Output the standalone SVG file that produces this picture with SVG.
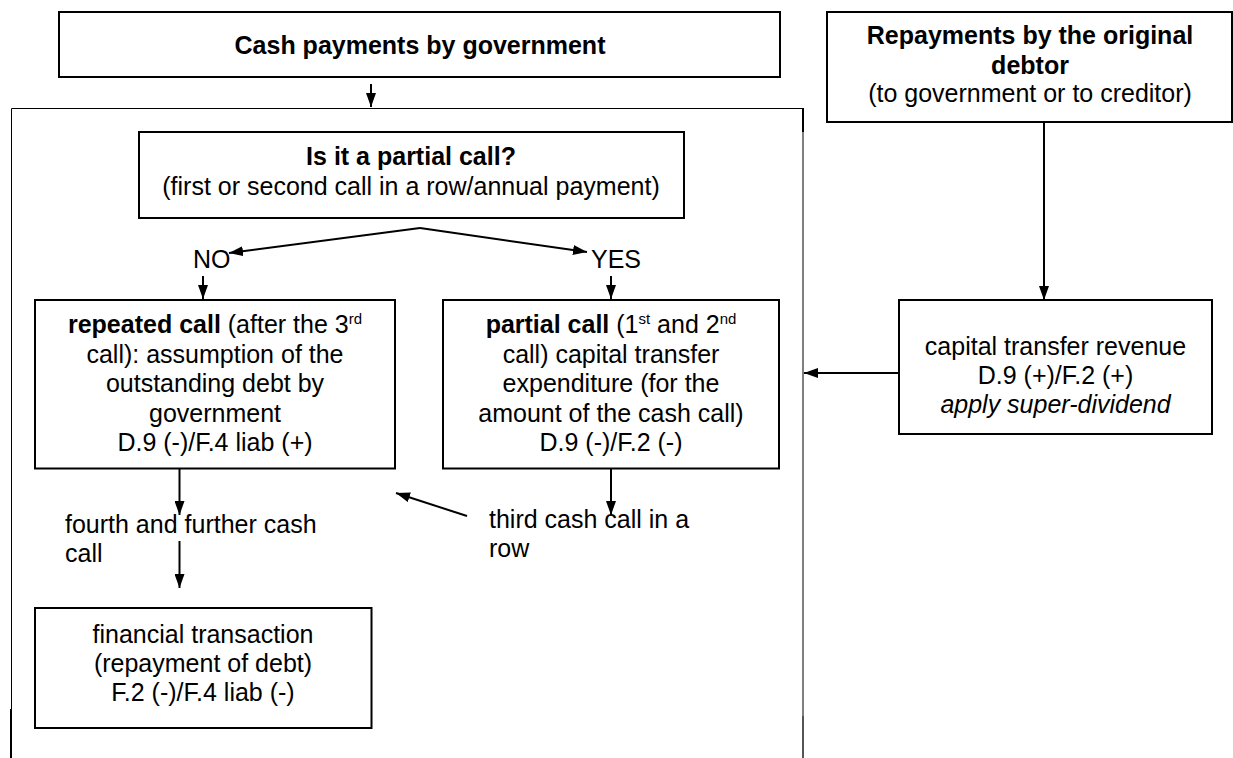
<svg xmlns="http://www.w3.org/2000/svg" width="1233" height="758" viewBox="0 0 1233 758">
<style>
text{font-family:"Liberation Sans",Arial,sans-serif;font-size:25px;fill:#000}
.c{text-anchor:middle}
.b{font-weight:bold}
.i{font-style:italic}
.sup{font-size:15px}
.box{fill:#fff;stroke:#000;stroke-width:2}
.ln{fill:none;stroke:#000;stroke-width:2}
</style>
<defs>
<marker id="ah" viewBox="0 0 14 10" refX="14" refY="5" markerWidth="14" markerHeight="10" markerUnits="userSpaceOnUse" orient="auto">
<path d="M0,0 L14,5 L0,10 z" fill="#000"/>
</marker>
</defs>
<rect width="1233" height="758" fill="#fff"/>
<g id="container">
<path d="M11.5,758 V108.5 H803 V758" fill="none" stroke="#000" stroke-width="1"/>
<path d="M803,108 V132" stroke="#000" stroke-width="2"/>
<path d="M11,709 V758" stroke="#000" stroke-width="2"/>
<path d="M803,716 V758" stroke="#555" stroke-width="2"/>
</g>
<g id="cash-payments">
<rect class="box" x="59" y="12" width="721" height="65"/>
<text class="c b" x="420" y="54">Cash payments by government</text>
</g>
<g id="repayments">
<rect class="box" x="827" y="12" width="405" height="110"/>
<text class="c b" x="1030" y="44">Repayments by the original</text>
<text class="c b" x="1030" y="73.5">debtor</text>
<text class="c" x="1030" y="102">(to government or to creditor)</text>
</g>
<g id="decision">
<rect class="box" x="139" y="132" width="545" height="86"/>
<text class="c b" x="411" y="165">Is it a partial call?</text>
<text class="c" x="411" y="195">(first or second call in a row/annual payment)</text>
</g>
<g id="repeated-call">
<rect class="box" x="35" y="300" width="360" height="168.5"/>
<text class="c" x="215" y="333"><tspan class="b">repeated call</tspan> (after the 3<tspan class="sup" dy="-9">rd</tspan></text>
<text class="c" x="215" y="362.5">call): assumption of the</text>
<text class="c" x="215" y="392">outstanding debt by</text>
<text class="c" x="215" y="421.5">government</text>
<text class="c" x="215" y="451">D.9 (-)/F.4 liab (+)</text>
</g>
<g id="partial-call">
<rect class="box" x="443" y="300" width="336" height="168.5"/>
<text class="c" x="611" y="333"><tspan class="b">partial call</tspan> (1<tspan class="sup" dy="-9">st</tspan><tspan dy="9"> and 2</tspan><tspan class="sup" dy="-9">nd</tspan></text>
<text class="c" x="611" y="362.5">call) capital transfer</text>
<text class="c" x="611" y="392">expenditure (for the</text>
<text class="c" x="611" y="421.5">amount of the cash call)</text>
<text class="c" x="611" y="451">D.9 (-)/F.2 (-)</text>
</g>
<g id="financial-transaction">
<rect class="box" x="35" y="608" width="336.5" height="120"/>
<text class="c" x="203" y="643">financial transaction</text>
<text class="c" x="203" y="672">(repayment of debt)</text>
<text class="c" x="203" y="701">F.2 (-)/F.4 liab (-)</text>
</g>
<g id="capital-transfer-revenue">
<rect class="box" x="899" y="300" width="313" height="134"/>
<text class="c" x="1055.5" y="355">capital transfer revenue</text>
<text class="c" x="1055.5" y="384">D.9 (+)/F.2 (+)</text>
<text class="c i" x="1055.5" y="413">apply super-dividend</text>
</g>
<g id="connectors">
<line class="ln" x1="371" y1="84" x2="371" y2="107" marker-end="url(#ah)"/>
<line class="ln" x1="420" y1="228" x2="229" y2="253" marker-end="url(#ah)"/>
<line class="ln" x1="420" y1="228" x2="587" y2="252" marker-end="url(#ah)"/>
<line class="ln" x1="203" y1="276" x2="203" y2="299" marker-end="url(#ah)"/>
<line class="ln" x1="611" y1="276" x2="611" y2="299" marker-end="url(#ah)"/>
<line class="ln" x1="179.5" y1="468.5" x2="179.5" y2="515" marker-end="url(#ah)"/>
<line class="ln" x1="179.5" y1="541" x2="179.5" y2="588" marker-end="url(#ah)"/>
<line class="ln" x1="611" y1="468.5" x2="611" y2="515" marker-end="url(#ah)"/>
<line class="ln" x1="467" y1="516" x2="396" y2="493" marker-end="url(#ah)"/>
<line class="ln" x1="1044" y1="122" x2="1044" y2="300" marker-end="url(#ah)"/>
<line class="ln" x1="899" y1="373" x2="804" y2="373" marker-end="url(#ah)"/>
</g>
<g id="labels">
<text x="193" y="268">NO</text>
<text x="591" y="268">YES</text>
<text x="65" y="533">fourth and further cash</text>
<text x="65" y="562">call</text>
<text x="489" y="528">third cash call in a</text>
<text x="489" y="557">row</text>
</g>
</svg>
